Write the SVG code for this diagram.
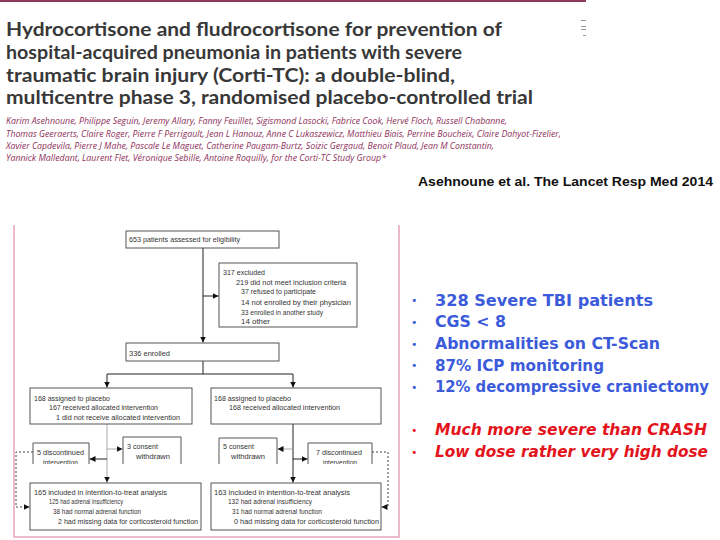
<svg xmlns="http://www.w3.org/2000/svg" width="720" height="540" viewBox="0 0 720 540">
<defs>
<marker id="ah" viewBox="0 0 10 10" refX="10" refY="5" markerWidth="6" markerHeight="6" orient="auto" markerUnits="userSpaceOnUse"><path d="M0,0 L10,5 L0,10 z" fill="#111"/></marker>
<clipPath id="clipL"><rect x="30" y="438" width="65" height="26"/></clipPath>
<clipPath id="clipR"><rect x="305" y="438" width="70" height="26"/></clipPath>
<clipPath id="clipC1"><rect x="120" y="434" width="65" height="30"/></clipPath>
<clipPath id="clipC2"><rect x="216" y="434" width="65" height="30"/></clipPath>
</defs>
<style>
.t{font-family:Lato,"Open Sans",sans-serif;font-weight:700;font-size:18.5px;fill:#383838}
.au{font-family:"Open Sans","Noto Sans",sans-serif;font-style:italic;font-size:9.5px;fill:#8e2f5a}
.ci{font-family:"Liberation Sans",Arial,sans-serif;font-weight:700;font-size:12.5px;fill:#111}
.fc{font-family:"Liberation Sans","Noto Sans",sans-serif;font-size:8px;fill:#333}
.box{fill:#fff;stroke:#555;stroke-width:1}
.open{fill:#fff;stroke:#555;stroke-width:1}
.ln{fill:none;stroke:#222;stroke-width:1}
.lg{fill:none;stroke:#aaa;stroke-width:1}
.dot{fill:none;stroke:#444;stroke-width:1;stroke-dasharray:2 2}
.bl{font-family:"DejaVu Sans Condensed","DejaVu Sans",sans-serif;font-stretch:condensed;font-weight:700;font-size:16px;fill:#3b5bdb}
.rd{font-family:"DejaVu Sans Condensed","DejaVu Sans",sans-serif;font-stretch:condensed;font-weight:700;font-style:italic;font-size:16px;fill:#e3141b}
.bb{font-family:"DejaVu Sans",sans-serif;font-size:11px;fill:#3b5bdb}
.br{font-family:"DejaVu Sans",sans-serif;font-size:11px;fill:#e3141b}
</style>
<rect x="0" y="0" width="720" height="540" fill="#fff"/>

<g id="header">
<rect x="0" y="0" width="586" height="2" fill="#8a3b5b"/>
<rect x="581" y="20" width="5" height="1" fill="#999"/>
<rect x="581" y="26" width="5" height="1" fill="#999"/>
<rect x="581" y="29" width="5" height="1" fill="#999"/>
<rect x="583" y="35" width="3" height="1" fill="#999"/>
<text class="t" x="6" y="36" textLength="496" lengthAdjust="spacingAndGlyphs">Hydrocortisone and fludrocortisone for prevention of</text>
<text class="t" x="6" y="59" textLength="456" lengthAdjust="spacingAndGlyphs">hospital-acquired pneumonia in patients with severe</text>
<text class="t" x="6" y="81.5" textLength="449" lengthAdjust="spacingAndGlyphs">traumatic brain injury (Corti-TC): a double-blind,</text>
<text class="t" x="6" y="104" textLength="527" lengthAdjust="spacingAndGlyphs">multicentre phase 3, randomised placebo-controlled trial</text>
<text class="au" x="6" y="124" textLength="501" lengthAdjust="spacingAndGlyphs">Karim Asehnoune, Philippe Seguin, Jeremy Allary, Fanny Feuillet, Sigismond Lasocki, Fabrice Cook, Hervé Floch, Russell Chabanne,</text>
<text class="au" x="6" y="137" textLength="555" lengthAdjust="spacingAndGlyphs">Thomas Geeraerts, Claire Roger, Pierre F Perrigault, Jean L Hanouz, Anne C Lukaszewicz, Matthieu Biais, Perrine Boucheix, Claire Dahyot-Fizelier,</text>
<text class="au" x="6" y="149" textLength="488" lengthAdjust="spacingAndGlyphs">Xavier Capdevila, Pierre J Mahe, Pascale Le Maguet, Catherine Paugam-Burtz, Soizic Gergaud, Benoit Plaud, Jean M Constantin,</text>
<text class="au" x="6" y="161" textLength="380" lengthAdjust="spacingAndGlyphs">Yannick Malledant, Laurent Flet, Véronique Sebille, Antoine Roquilly, for the Corti-TC Study Group*</text>
<text class="ci" x="418" y="186" textLength="295" lengthAdjust="spacingAndGlyphs">Asehnoune et al. The Lancet Resp Med 2014</text>
</g>

<path d="M14,225 V537 H399 V225" fill="none" stroke="#e6a3bd" stroke-width="1.5"/>

<g id="connectors">
<path class="ln" d="M203,248 V342.5" marker-end="url(#ah)"/>
<path class="ln" d="M203,296 H218.5" marker-end="url(#ah)"/>
<path class="ln" d="M203,361 V374 M107,374 H293"/>
<path class="ln" d="M107,374 V387.5" marker-end="url(#ah)"/>
<path class="ln" d="M293,374 V387.5" marker-end="url(#ah)"/>
<path class="lg" d="M107,424 V482.5" marker-end="url(#ah)"/>
<path class="lg" d="M107,449 H122.5" marker-end="url(#ah)"/>
<path class="ln" d="M107,459 H89.5" marker-end="url(#ah)"/>
<path class="dot" d="M33,452 H16 V507 H29.5" marker-end="url(#ah)"/>
<path class="ln" d="M293,424 V482.5" marker-end="url(#ah)"/>
<path class="lg" d="M293,449 H277.5" marker-end="url(#ah)"/>
<path class="ln" d="M293,459 H307.5" marker-end="url(#ah)"/>
<path class="dot" d="M372,452 H388 V507 H381.5" marker-end="url(#ah)"/>
</g>

<g id="assessed">
<rect class="box" x="126" y="231" width="153" height="17"/>
<text class="fc" x="129" y="242" textLength="111" lengthAdjust="spacingAndGlyphs">653 patients assessed for eligibility</text>
</g>
<g id="excluded">
<rect class="box" x="219" y="263" width="138" height="64"/>
<text class="fc" x="223" y="274.5" textLength="42" lengthAdjust="spacingAndGlyphs">317 excluded</text>
<text class="fc" x="236" y="284.5" textLength="110" lengthAdjust="spacingAndGlyphs">219 did not meet inclusion criteria</text>
<text class="fc" x="241" y="294" textLength="75" lengthAdjust="spacingAndGlyphs">37 refused to participate</text>
<text class="fc" x="241" y="304.5" textLength="110" lengthAdjust="spacingAndGlyphs">14 not enrolled by their physician</text>
<text class="fc" x="241" y="314.5" textLength="82" lengthAdjust="spacingAndGlyphs">33 enrolled in another study</text>
<text class="fc" x="241" y="324" textLength="29" lengthAdjust="spacingAndGlyphs">14 other</text>
</g>
<g id="enrolled">
<rect class="box" x="126" y="343" width="153" height="18"/>
<text class="fc" x="129" y="356" textLength="41" lengthAdjust="spacingAndGlyphs">336 enrolled</text>
</g>
<g id="placeboA">
<rect class="box" x="30" y="388" width="162" height="36"/>
<text class="fc" x="34" y="400.5" textLength="76" lengthAdjust="spacingAndGlyphs">168 assigned to placebo</text>
<text class="fc" x="49" y="410" textLength="109" lengthAdjust="spacingAndGlyphs">167 received allocated intervention</text>
<text class="fc" x="56" y="420" textLength="124" lengthAdjust="spacingAndGlyphs">1 did not receive allocated intervention</text>
</g>
<g id="placeboB">
<rect class="box" x="211" y="388" width="170" height="36"/>
<text class="fc" x="214" y="400.5" textLength="77" lengthAdjust="spacingAndGlyphs">168 assigned to placebo</text>
<text class="fc" x="229" y="410" textLength="111" lengthAdjust="spacingAndGlyphs">168 received allocated intervention</text>
</g>
<g id="discA">
<path class="open" d="M33,464 V443 H89 V464"/>
<g clip-path="url(#clipL)">
<text class="fc" x="37" y="455" textLength="47" lengthAdjust="spacingAndGlyphs">5 discontinued</text>
<text class="fc" x="43" y="465" textLength="35" lengthAdjust="spacingAndGlyphs">intervention</text>
</g>
</g>
<g id="consentA">
<path class="open" d="M123,464 V437 H181 V464"/>
<g clip-path="url(#clipC1)">
<text class="fc" x="127" y="449" textLength="31" lengthAdjust="spacingAndGlyphs">3 consent</text>
<text class="fc" x="136" y="459" textLength="34" lengthAdjust="spacingAndGlyphs">withdrawn</text>
</g>
</g>
<g id="consentB">
<path class="open" d="M219,464 V438 H277 V464"/>
<g clip-path="url(#clipC2)">
<text class="fc" x="223" y="449" textLength="31" lengthAdjust="spacingAndGlyphs">5 consent</text>
<text class="fc" x="231" y="459" textLength="34" lengthAdjust="spacingAndGlyphs">withdrawn</text>
</g>
</g>
<g id="discB">
<path class="open" d="M308,464 V443 H372 V464"/>
<g clip-path="url(#clipR)">
<text class="fc" x="316" y="455" textLength="46" lengthAdjust="spacingAndGlyphs">7 discontinued</text>
<text class="fc" x="323" y="465" textLength="34" lengthAdjust="spacingAndGlyphs">intervention</text>
</g>
</g>
<g id="ittA">
<rect class="box" x="30" y="483" width="171" height="47"/>
<text class="fc" x="34" y="494.5" textLength="133" lengthAdjust="spacingAndGlyphs">165 included in intention-to-treat analysis</text>
<text class="fc" x="49" y="504" textLength="74" lengthAdjust="spacingAndGlyphs">125 had adrenal insufficiency</text>
<text class="fc" x="53" y="513.5" textLength="88" lengthAdjust="spacingAndGlyphs">38 had normal adrenal function</text>
<text class="fc" x="58" y="523.5" textLength="140" lengthAdjust="spacingAndGlyphs">2 had missing data for corticosteroid function</text>
</g>
<g id="ittB">
<rect class="box" x="211" y="483" width="170" height="47"/>
<text class="fc" x="214" y="494.5" textLength="136" lengthAdjust="spacingAndGlyphs">163 included in intention-to-treat analysis</text>
<text class="fc" x="228" y="504" textLength="84" lengthAdjust="spacingAndGlyphs">132 had adrenal insufficiency</text>
<text class="fc" x="232" y="513.5" textLength="90" lengthAdjust="spacingAndGlyphs">31 had normal adrenal function</text>
<text class="fc" x="234" y="523.5" textLength="145" lengthAdjust="spacingAndGlyphs">0 had missing data for corticosteroid function</text>
</g>

<g id="bullets">
<text class="bb" x="411" y="304">•</text>
<text class="bb" x="411" y="325.5">•</text>
<text class="bb" x="411" y="347.5">•</text>
<text class="bb" x="411" y="369">•</text>
<text class="bb" x="411" y="391">•</text>
<text class="br" x="411" y="434">•</text>
<text class="br" x="411" y="455.5">•</text>
<text class="bl" x="435" y="305.5" textLength="218" lengthAdjust="spacingAndGlyphs">328 Severe TBI patients</text>
<text class="bl" x="435" y="327" textLength="71" lengthAdjust="spacingAndGlyphs">CGS &lt; 8</text>
<text class="bl" x="435" y="349" textLength="225" lengthAdjust="spacingAndGlyphs">Abnormalities on CT-Scan</text>
<text class="bl" x="435" y="370.5" textLength="169" lengthAdjust="spacingAndGlyphs">87% ICP monitoring</text>
<text class="bl" x="435" y="392" textLength="274" lengthAdjust="spacingAndGlyphs">12% decompressive craniectomy</text>
<text class="rd" x="435" y="435" textLength="272" lengthAdjust="spacingAndGlyphs">Much more severe than CRASH</text>
<text class="rd" x="435" y="456.5" textLength="273" lengthAdjust="spacingAndGlyphs">Low dose rather very high dose</text>
</g>
</svg>
